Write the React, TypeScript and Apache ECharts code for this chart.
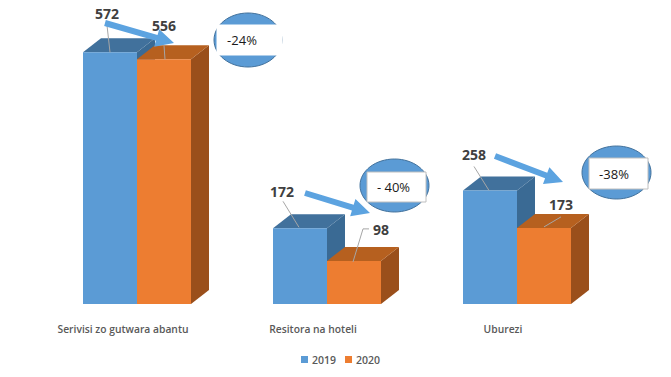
import React, { useEffect, useRef } from "react";
import * as echarts from "echarts";

const categories = ["Serivisi zo gutwara abantu", "Resitora na hoteli", "Uburezi"];
const values2019 = [572, 172, 258];
const values2020 = [556, 98, 173];
const seriesNames = ["2019", "2020"];
const changeLabels = ["-24%", "- 40%", "-38%"];

const FONT = '"Open Sans", sans-serif';
const BAR_W = 54;
const DX = 18;
const DY = 14;

const palette2019 = { front: "#5b9bd5", top: "#41719c", side: "#3a6a94" };
const palette2020 = { front: "#ed7d31", top: "#b6601f", side: "#9a4f1b" };

// value label position and leader line, relative to the top-centre of each bar's front face
const labelLayout2019 = [
  { tx: -3, ty: -39, line: [[-3, -27], [0, 0]] },
  { tx: -18, ty: -37, line: [[-17, -27], [-1, -1]] },
  { tx: -16, ty: -36, line: [[-16, -24], [-1, 0]] },
];
const labelLayout2020 = [
  { tx: 0, ty: -34, line: [[0, -14], [1, 0]] },
  { tx: 27, ty: -31, line: [[15, -32], [9, -32], [-1, 1]] },
  { tx: 17, ty: -23, line: [[17, -11], [0, -1]] },
];

const calloutLayout = [
  { cx: 248, cy: 40, rx: 34, ry: 27, box: [217, 25, 65, 30], border: false, tx: 242, arrow: [105, 23, 174, 43] },
  { cx: 394.5, cy: 185.5, rx: 34.5, ry: 26.5, box: [367, 172, 59, 30], border: true, tx: 393.5, arrow: [305, 193, 370, 213] },
  { cx: 616.5, cy: 172.5, rx: 34.5, ry: 26.5, box: [589, 158, 59, 31], border: true, tx: 614, arrow: [495, 156, 563, 182] },
];

function arrowPoints(x1: number, y1: number, x2: number, y2: number) {
  const len = Math.hypot(x2 - x1, y2 - y1);
  const ux = (x2 - x1) / len;
  const uy = (y2 - y1) / len;
  const nx = -uy;
  const ny = ux;
  const headLen = 18;
  const headHalf = 9;
  const shaftHalf = 3;
  const bx = x2 - ux * headLen;
  const by = y2 - uy * headLen;
  return [
    [x1 + nx * shaftHalf, y1 + ny * shaftHalf],
    [bx + nx * shaftHalf, by + ny * shaftHalf],
    [bx + nx * headHalf, by + ny * headHalf],
    [x2, y2],
    [bx - nx * headHalf, by - ny * headHalf],
    [bx - nx * shaftHalf, by - ny * shaftHalf],
    [x1 - nx * shaftHalf, y1 - ny * shaftHalf],
  ];
}

function makeRenderItem(offsetDir: number, colors: any, layout: any[], values: number[]) {
  return (params: any, api: any) => {
    const idx = api.value(0);
    const [cx, topY] = api.coord([idx, api.value(1)]);
    const [, baseY] = api.coord([idx, 0]);
    const x0 = offsetDir < 0 ? cx - BAR_W : cx;
    const x1 = x0 + BAR_W;
    const centre = (x0 + x1) / 2;
    const l = layout[params.dataIndex];
    return {
      type: "group",
      children: [
        { type: "polygon", shape: { points: [[x1, topY], [x1 + DX, topY - DY], [x1 + DX, baseY - DY], [x1, baseY]] }, style: { fill: colors.side } },
        { type: "polygon", shape: { points: [[x0, topY], [x0 + DX, topY - DY], [x1 + DX, topY - DY], [x1, topY]] }, style: { fill: colors.top } },
        { type: "rect", shape: { x: x0, y: topY, width: BAR_W, height: baseY - topY }, style: { fill: colors.front } },
        { type: "polyline", shape: { points: l.line.map((p: number[]) => [centre + p[0], topY + p[1]]) }, style: { fill: "none", stroke: "#a6a6a6", lineWidth: 1 } },
        {
          type: "text",
          style: {
            x: centre + l.tx,
            y: topY + l.ty,
            text: String(values[params.dataIndex]),
            fill: "#404040",
            font: `bold 14px ${FONT}`,
            align: "center",
            verticalAlign: "middle",
          },
        },
      ],
    };
  };
}

export default function App() {
  const ref = useRef<HTMLDivElement>(null);
  useEffect(() => {
    const chart = echarts.init(ref.current!, undefined, { renderer: "svg" });
    const graphics: any[] = [];
    calloutLayout.forEach((c, i) => {
      graphics.push({
        type: "ellipse",
        z: 20,
        shape: { cx: c.cx, cy: c.cy, rx: c.rx, ry: c.ry },
        style: { fill: "#5b9bd5", stroke: "#41719c", lineWidth: 1 },
      });
      graphics.push({
        type: "rect",
        z: 21,
        shape: { x: c.box[0], y: c.box[1], width: c.box[2], height: c.box[3] },
        style: { fill: "#ffffff", stroke: c.border ? "#bfbfbf" : "#ffffff", lineWidth: 1 },
      });
      graphics.push({
        type: "text",
        z: 22,
        style: {
          x: c.tx,
          y: c.box[1] + c.box[3] / 2,
          text: changeLabels[i],
          fill: "#1a1a1a",
          font: `500 13px ${FONT}`,
          align: "center",
          verticalAlign: "middle",
        },
      });
      const a = c.arrow;
      graphics.push({
        type: "polygon",
        z: 20,
        shape: { points: arrowPoints(a[0], a[1], a[2], a[3]) },
        style: { fill: "#5ca3e0" },
      });
    });
    chart.setOption({
      animation: false,
      backgroundColor: "#ffffff",
      grid: { left: 42, top: 40, width: 570, height: 264, containLabel: false },
      legend: {
        left: 301,
        top: 354,
        padding: 0,
        itemWidth: 5,
        itemHeight: 5,
        itemGap: 9,
        icon: "rect",
        data: [
          { name: seriesNames[0], itemStyle: { borderWidth: 2, borderColor: palette2019.front } },
          { name: seriesNames[1], itemStyle: { borderWidth: 2, borderColor: palette2020.front } },
        ],
        textStyle: { color: "#595959", fontSize: 10.5, fontFamily: FONT, fontWeight: 600 },
      },
      xAxis: {
        type: "category",
        data: categories,
        axisLine: { show: false },
        axisTick: { show: false },
        splitLine: { show: false },
        axisLabel: {
          color: "#595959",
          fontSize: 10.3,
          fontWeight: 600,
          fontFamily: FONT,
          margin: 20,
          padding: [0, 28, 0, 0],
          interval: 0,
        },
      },
      yAxis: { type: "value", min: 0, max: 600, show: false },
      series: [
        {
          type: "custom",
          name: seriesNames[0],
          itemStyle: { color: palette2019.front },
          encode: { x: 0, y: 1 },
          clip: false,
          data: values2019.map((v, i) => [i, v]),
          renderItem: makeRenderItem(-1, palette2019, labelLayout2019, values2019),
        },
        {
          type: "custom",
          name: seriesNames[1],
          itemStyle: { color: palette2020.front },
          encode: { x: 0, y: 1 },
          clip: false,
          data: values2020.map((v, i) => [i, v]),
          renderItem: makeRenderItem(1, palette2020, labelLayout2020, values2020),
        },
      ],
      graphic: graphics,
    });
    return () => chart.dispose();
  }, []);
  return <div ref={ref} style={{ position: "absolute", left: 0, top: 0, width: 671, height: 377 }} />;
}
